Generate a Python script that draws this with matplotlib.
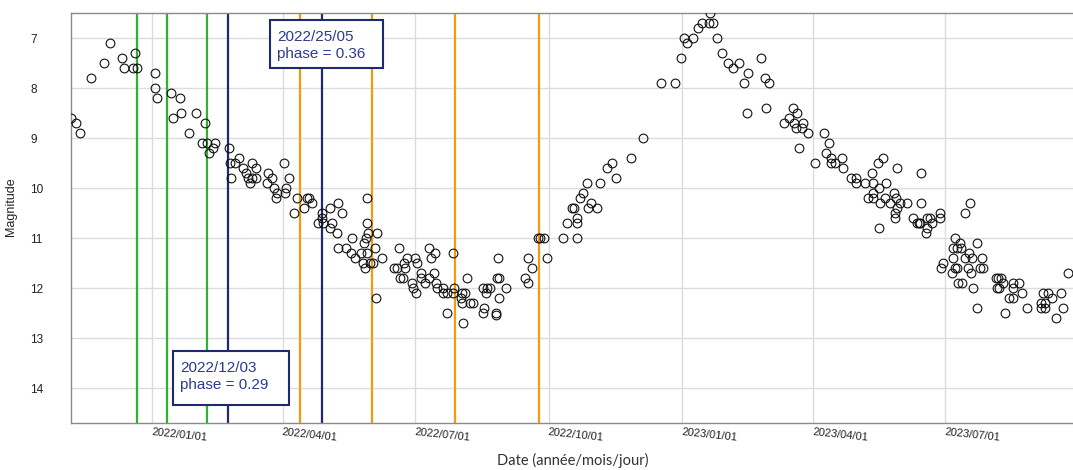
import numpy as np
import pandas as pd
import matplotlib
matplotlib.use("Agg")
import matplotlib.pyplot as plt
import matplotlib.dates as mdates
from matplotlib.patches import Rectangle

# ---- data: observation time (JD - 2459000) and visual magnitude ----
jd = [524.7, 528.2, 531.1, 538.3, 547.2, 551.8, 559.6, 561.0, 567.2, 568.6, 570.0,
      582.6, 582.8, 583.9, 593.6, 594.8, 599.8, 600.7, 605.8, 611.0, 615.1, 617.0,
      618.2, 619.7, 622.7, 623.9, 633.5, 634.2, 634.9, 637.9, 640.6, 643.4, 645.0,
      646.8, 648.0, 649.1, 649.6, 652.1, 652.1, 659.9, 660.2, 662.9, 664.5, 665.7,
      666.4, 671.4, 672.1, 672.8, 674.8, 678.5, 680.1, 685.2, 687.4, 688.8, 690.9,
      695.0, 697.3, 697.8, 698.0, 703.1, 703.1, 704.2, 707.7, 708.4, 708.4, 711.1,
      714.1, 717.5, 718.0, 720.3, 724.2, 726.0, 726.5, 727.2, 727.8, 728.3, 728.3,
      728.3, 729.4, 730.6, 732.9, 734.0, 734.7, 735.2, 738.7, 747.1, 749.0, 750.8,
      751.3, 753.5, 754.0, 754.7, 755.9, 759.3, 760.4, 761.6, 762.3, 762.8, 765.5,
      765.5, 768.5, 771.4, 771.4, 772.4, 774.7, 775.4, 776.0, 776.5, 780.7, 781.1,
      783.4, 783.8, 787.5, 788.0, 788.4, 793.0, 793.7, 794.1, 794.4, 796.0, 797.2,
      799.4, 801.3, 808.2, 808.2, 809.1, 810.5, 811.4, 813.2, 817.1, 817.6, 818.2,
      818.5, 819.4, 819.4, 824.2, 837.3, 839.2, 839.6, 842.3, 846.3, 847.6, 850.4,
      852.3, 863.3, 866.0, 869.5, 871.3, 872.9, 873.3, 873.3, 875.2, 877.5, 880.2,
      880.5, 882.6, 886.7, 889.2, 894.0, 897.4, 900.2, 910.5, 918.8, 931.0, 940.6,
      944.7, 946.6, 948.6, 952.8, 956.6, 959.0, 964.2, 964.9, 966.5, 969.3, 973.0,
      977.3, 980.7, 984.7, 987.9, 990.0, 990.6, 999.8, 1002.6, 1003.0, 1005.5,
      1015.9, 1019.3, 1021.6, 1022.7, 1023.7, 1024.4, 1025.8, 1028.2, 1028.9,
      1032.4, 1036.8, 1043.4, 1044.6, 1046.4, 1047.8, 1047.8, 1050.8, 1055.6,
      1056.5, 1062.0, 1065.0, 1065.4, 1071.4, 1073.7, 1076.0, 1076.7, 1076.7,
      1077.1, 1080.6, 1081.3, 1081.3, 1081.7, 1083.6, 1085.2, 1085.7, 1088.6,
      1091.4, 1091.7, 1092.1, 1092.5, 1093.2, 1093.6, 1095.5, 1100.5, 1104.2,
      1107.0, 1108.5, 1109.3, 1110.2, 1110.2, 1113.4, 1113.9, 1113.9, 1116.2,
      1117.3, 1123.0, 1123.0, 1123.5, 1124.9, 1131.5, 1131.8, 1132.2, 1133.4,
      1133.4, 1134.5, 1135.0, 1135.6, 1136.8, 1137.3, 1138.0, 1140.3, 1140.5,
      1142.1, 1143.2, 1143.7, 1144.4, 1144.9, 1145.6, 1148.3, 1148.5, 1150.6,
      1151.8, 1152.9, 1161.4, 1162.1, 1163.2, 1163.7, 1164.8, 1166.6, 1167.6,
      1170.6, 1173.1, 1173.5, 1173.5, 1177.6, 1179.3, 1182.7, 1192.6, 1192.6,
      1194.2, 1195.3, 1195.3, 1197.6, 1200.4, 1202.7, 1206.3, 1207.5, 1211.4]

magnitude = [8.6, 8.7, 8.9, 7.8, 7.5, 7.1, 7.4, 7.6, 7.6, 7.3, 7.6,
             7.7, 8.0, 8.2, 8.1, 8.6, 8.2, 8.5, 8.9, 8.5, 9.1, 8.7,
             9.1, 9.3, 9.2, 9.1, 9.2, 9.5, 9.8, 9.5, 9.4, 9.6, 9.7,
             9.8, 9.9, 9.5, 9.8, 9.6, 9.8, 9.9, 9.7, 9.8, 10.0, 10.2,
             10.1, 9.5, 10.1, 10.0, 9.8, 10.5, 10.2, 10.4, 10.2, 10.2, 10.3,
             10.7, 10.5, 10.6, 10.7, 10.4, 10.8, 10.7, 10.9, 10.3, 11.2, 10.5,
             11.2, 11.3, 11.0, 11.4, 11.3, 11.5, 11.1, 11.6, 11.0, 11.3, 10.7,
             10.2, 10.9, 11.5, 11.5, 11.2, 12.2, 10.9, 11.4, 11.6, 11.6, 11.2,
             11.8, 11.8, 11.5, 11.6, 11.4, 11.9, 12.0, 11.4, 12.1, 11.5, 11.7,
             11.8, 11.9, 11.2, 11.8, 11.4, 11.7, 11.3, 11.9, 12.0, 12.1, 12.0,
             12.1, 12.5, 12.1, 11.3, 12.0, 12.2, 12.1, 12.3, 12.7, 12.1, 11.8,
             12.3, 12.3, 12.0, 12.5, 12.4, 12.1, 12.0, 12.0, 12.5, 12.53, 11.8,
             11.4, 11.8, 12.2, 12.0, 11.8, 11.4, 11.9, 11.6, 11.0, 11.0, 11.0,
             11.4, 11.0, 10.7, 10.4, 10.4, 11.0, 10.7, 10.6, 10.2, 10.1, 9.9,
             10.4, 10.3, 10.4, 9.9, 9.6, 9.5, 9.8, 9.4, 9.0, 7.9, 7.9,
             7.4, 7.0, 7.1, 7.0, 6.8, 6.7, 6.7, 6.5, 6.7, 7.0, 7.3,
             7.5, 7.6, 7.5, 7.9, 8.5, 7.7, 7.4, 7.8, 8.4, 7.9,
             8.7, 8.6, 8.4, 8.7, 8.8, 8.5, 9.2, 8.8, 8.7,
             8.9, 9.5, 8.9, 9.3, 9.1, 9.4, 9.5, 9.5, 9.4,
             9.6, 9.8, 9.8, 9.9, 9.9, 10.2, 9.7, 9.9, 10.1,
             10.2, 9.5, 10.0, 10.8, 10.3, 9.4, 10.2, 9.9, 10.3,
             10.1, 10.5, 10.6, 10.2, 10.4, 9.6, 10.3, 10.3, 10.6,
             10.7, 10.7, 10.7, 9.7, 10.3, 10.9, 10.6, 10.8, 10.6,
             10.7, 10.5, 10.6, 11.6, 11.5, 11.7, 11.4, 11.2, 11.0,
             11.6, 11.2, 11.6, 11.9, 11.1, 11.2, 11.9, 11.4, 10.5,
             11.6, 11.3, 10.3, 11.7, 11.4, 12.0, 11.1, 12.4, 11.6,
             11.4, 11.6, 11.8, 12.0, 11.8, 12.0, 11.8, 11.9, 12.5,
             12.2, 12.0, 11.9, 12.2, 11.9, 12.1, 12.4, 12.3, 12.4,
             12.1, 12.3, 12.4, 12.1, 12.2, 12.6, 12.1, 12.4, 11.7]

# vertical marker lines (JD - 2459000)
green_lines = [570.0, 591.0, 618.4]
navy_lines = [633.0, 697.5]
orange_lines = [682.4, 732.2, 789.3, 846.9]

# annotation texts
annot_1 = ["2022/12/03", "phase = 0.29"]
annot_2 = ["2022/25/05", "phase = 0.36"]

x_range = [524.7, 1214.6]
tick_dates = ["2022/01/01", "2022/04/01", "2022/07/01", "2022/10/01",
              "2023/01/01", "2023/04/01", "2023/07/01"]
y_ticks = [7, 8, 9, 10, 11, 12, 13, 14]
y_range = [14.7, 6.5]

JD0 = 2459000.0


def to_dt(values):
    return pd.to_datetime(np.asarray(values, dtype=float) + JD0, unit="D", origin="julian")


GREEN = "#2fb32f"
ORANGE = "#f29a12"
NAVY = "#1f2a6e"
TEXT_NAVY = "#2e3a8c"

fig = plt.figure(figsize=(10.73, 4.70), dpi=100)
W, H = 1073, 470
ax = fig.add_axes([71 / W, 47 / H, 1002 / W, 410 / H])

# grid
ax.set_axisbelow(True)
ax.grid(True, color="#dcdcdc", linewidth=1.0)

# vertical lines
for v in green_lines:
    ax.axvline(to_dt([v])[0], color=GREEN, linewidth=1.6, zorder=2)
for v in navy_lines:
    ax.axvline(to_dt([v])[0], color=NAVY, linewidth=1.6, zorder=2)
for v in orange_lines:
    ax.axvline(to_dt([v])[0], color=ORANGE, linewidth=1.6, zorder=2)

# data points
ax.plot(to_dt(jd), magnitude, linestyle="none", marker="o", markersize=6.3,
        markerfacecolor="none", markeredgecolor="#111111", markeredgewidth=0.8,
        zorder=3)

# axes limits / ticks
xr = to_dt(x_range)
ax.set_xlim(xr[0], xr[1])
ax.set_ylim(*y_range)
ax.set_yticks(y_ticks)
ax.set_xticks(pd.to_datetime(tick_dates, format="%Y/%m/%d"))
ax.xaxis.set_major_formatter(mdates.DateFormatter("%Y/%m/%d"))

ax.tick_params(axis="both", length=0, labelsize=8, colors="#222222",
               labelfontfamily="Liberation Sans")
ax.tick_params(axis="y", pad=29.5, labelsize=8.5)
ax.tick_params(axis="x", pad=3)
for lbl in ax.get_yticklabels():
    lbl.set_horizontalalignment("left")
for lbl in ax.get_xticklabels():
    lbl.set_rotation(-6)
    lbl.set_horizontalalignment("left")
    lbl.set_verticalalignment("top")
    lbl.set_rotation_mode("anchor")

for side in ["left", "top", "bottom"]:
    ax.spines[side].set_color("#8a8a8a")
    ax.spines[side].set_linewidth(1.0)
ax.spines["right"].set_visible(False)

ax.set_ylabel("Magnitude", fontsize=9, family="Liberation Sans", color="#222222")
ax.yaxis.set_label_coords((17 - 71) / 1002, (423 - 207) / 410)
ax.set_xlabel("Date (année/mois/jour)", fontsize=10.5, family="Lato", color="#333333")
ax.xaxis.set_label_coords((573 - 71) / 1002, (423 - 460) / 410)
ax.xaxis.label.set_verticalalignment("center")


def px_to_ax(x, y):
    return (x - 71) / 1002, (423 - y) / 410


def annot_box(x0, y0, x1, y1, tx, baselines, lines):
    ax0, ay1 = px_to_ax(x0, y1)
    ax1, ay0 = px_to_ax(x1, y0)
    rect = Rectangle((ax0, ay1), ax1 - ax0, ay0 - ay1, transform=ax.transAxes,
                     facecolor="white", edgecolor=NAVY, linewidth=1.5, zorder=5,
                     clip_on=False)
    ax.add_patch(rect)
    for line, by in zip(lines, baselines):
        px, py = px_to_ax(tx, by)
        ax.text(px, py, line, transform=ax.transAxes, fontsize=11,
                family="Liberation Sans", color=TEXT_NAVY, ha="left",
                va="baseline", zorder=6)


annot_box(173, 350.7, 289, 405, 180, [371.7, 389.3], annot_1)
annot_box(270, 20, 382.7, 67.7, 277, [40.7, 58.3], annot_2)

fig.savefig("out.png", dpi=100)
